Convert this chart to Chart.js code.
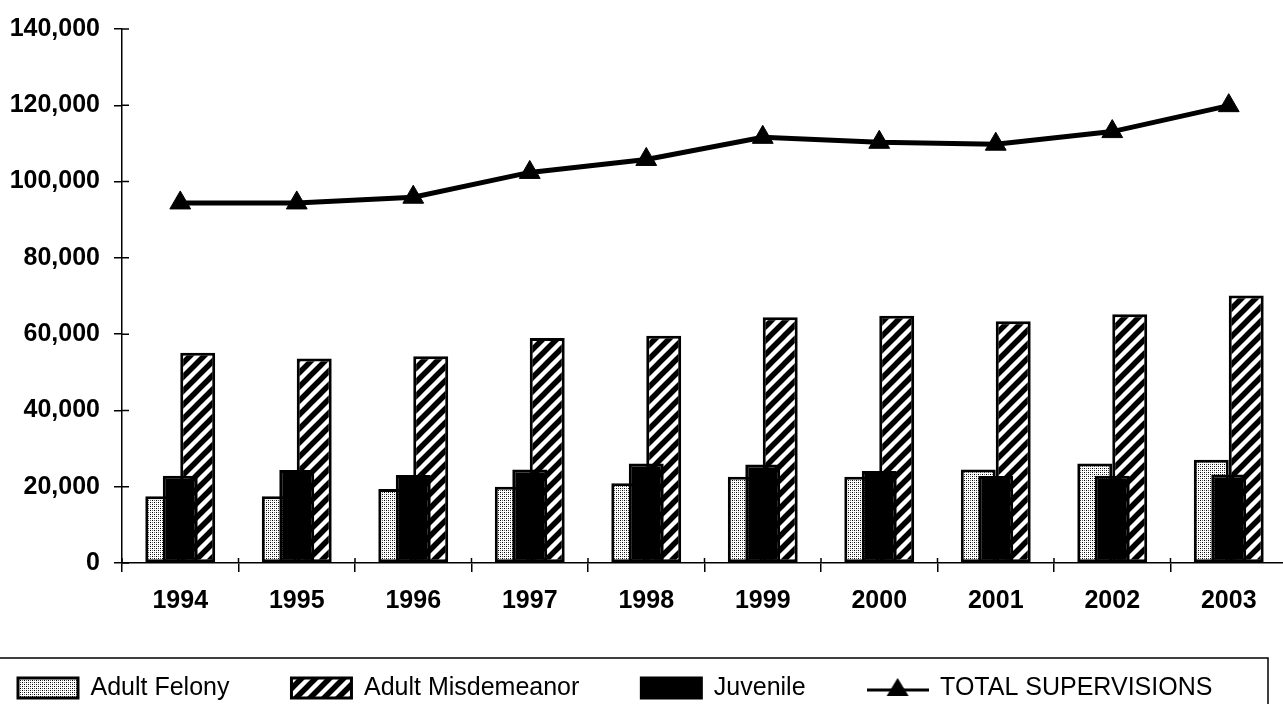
<!DOCTYPE html>
<html>
<head>
<meta charset="utf-8">
<title>Supervisions 1994-2003</title>
<script src="https://cdn.jsdelivr.net/npm/chart.js@4.4.1/dist/chart.umd.min.js"></script>
<style>
  html, body { margin: 0; padding: 0; background: #fff; overflow: hidden; }
  canvas { display: block; }
</style>
</head>
<body>
<canvas id="supervisions" width="1300" height="704"></canvas>
<script>
// values
const years = ["1994", "1995", "1996", "1997", "1998", "1999", "2000", "2001", "2002", "2003"]
const adultFelony = [17500, 17500, 19400, 20000, 20900, 22600, 22600, 24500, 26100, 27100]
const adultMisdemeanor = [55100, 53600, 54200, 59000, 59600, 64400, 64800, 63400, 65200, 70100]
const juvenile = [22900, 24400, 23100, 24500, 26100, 25800, 24100, 22800, 22900, 23200]
const totalSupervisions = [94400, 94400, 95900, 102400, 105800, 111600, 110300, 109800, 113100, 119900]
const yTicks = [0, 20000, 40000, 60000, 80000, 100000, 120000, 140000]

Chart.defaults.font.family = "'Liberation Sans', Arial, sans-serif"
Chart.defaults.color = "#000"

// fill patterns like the old b/w print
function makePattern(size, paint) {
  const c = document.createElement("canvas")
  c.width = size
  c.height = size
  const g = c.getContext("2d")
  g.fillStyle = "#fff"
  g.fillRect(0, 0, size, size)
  paint(g, size)
  return g.createPattern(c, "repeat")
}

// A. stipple for felony
const dots = makePattern(4, (g) => {
  g.fillStyle = "#000"
  g.fillRect(0, 0, 1, 1)
  g.fillRect(2, 2, 1, 1)
  g.fillStyle = "#666"
  g.fillRect(2, 0, 1, 1)
  g.fillRect(0, 2, 1, 1)
})

// B. "/" stripes for misdemeanor
const stripes = makePattern(14, (g, s) => {
  g.strokeStyle = "#000"
  g.lineWidth = 5.5
  g.beginPath()
  g.moveTo(-s / 2, s / 2); g.lineTo(s / 2, -s / 2)
  g.moveTo(0, s); g.lineTo(s, 0)
  g.moveTo(s / 2, s * 1.5); g.lineTo(s * 1.5, s / 2)
  g.stroke()
})

// C. legend symbol for the total line
const lineSymbol = document.createElement("canvas")
lineSymbol.width = 62
lineSymbol.height = 24
;(function () {
  const g = lineSymbol.getContext("2d")
  g.strokeStyle = "#000"
  g.lineWidth = 3
  g.beginPath()
  g.moveTo(0, 14); g.lineTo(62, 14)
  g.stroke()
  g.fillStyle = "#000"
  g.beginPath()
  g.moveTo(31, 2); g.lineTo(42, 20); g.lineTo(20, 20)
  g.closePath()
  g.fill()
})()
const legendStyles = ["rect", "rect", "rect", lineSymbol]

// bars overlap like in Excel: each series gets its own hidden axis, shifted a bit
// (negative shift = bar sits left of the year centre)
const barShift = 0.15
function barAxis(shift) {
  return {
    type: "linear",
    display: false,
    offset: false,
    bounds: "data",
    min: Number(years[0]) - 0.5 - shift,
    max: Number(years[years.length - 1]) + 0.5 - shift,
    afterBuildTicks: (s) => { s.ticks = [] },
  }
}

const legendFrame = {
  id: "legendFrame",
  afterDraw(chart) {
    const ctx = chart.ctx
    ctx.save()
    ctx.strokeStyle = "#000"
    ctx.lineWidth = 1.5
    ctx.strokeRect(-2, 658, 1270, 60)
    ctx.restore()
  },
}

// tick marks in the original cross the axis line, so add the inner half
const crossTicks = {
  id: "crossTicks",
  afterDraw(chart) {
    const { ctx, chartArea } = chart
    const y = chart.scales.y
    const x = chart.scales.x
    ctx.save()
    ctx.strokeStyle = "#000"
    ctx.lineWidth = 1.5
    ctx.beginPath()
    yTicks.forEach((v) => {
      const py = y.getPixelForValue(v)
      ctx.moveTo(chartArea.left, py)
      ctx.lineTo(chartArea.left + 7, py)
    })
    for (let i = 0; i <= years.length; i++) {
      const px = chartArea.left + (i * (chartArea.right - chartArea.left)) / years.length
      ctx.moveTo(px, chartArea.bottom)
      ctx.lineTo(px, chartArea.bottom - 5)
    }
    ctx.stroke()
    ctx.restore()
  },
}

// shared bar look; grouped off so each bar sits right on its own axis value
const barLook = {
  type: "bar",
  borderColor: "#000",
  borderWidth: 3,
  borderSkipped: false,
  grouped: false,
  categoryPercentage: 1,
  barPercentage: 0.3,
}

const data = {
  labels: years,
  datasets: [
    { ...barLook, label: "Adult Felony", data: adultFelony, xAxisID: "xf", backgroundColor: dots, order: 3 },
    { ...barLook, label: "Adult Misdemeanor", data: adultMisdemeanor, xAxisID: "xm", backgroundColor: stripes, order: 2 },
    { ...barLook, label: "Juvenile", data: juvenile, xAxisID: "xj", backgroundColor: "#000", order: 1 },
    {
      type: "line",
      label: "TOTAL SUPERVISIONS",
      data: totalSupervisions,
      xAxisID: "x",
      borderColor: "#000",
      backgroundColor: "#000",
      borderWidth: 5,
      tension: 0,
      pointStyle: "triangle",
      pointRadius: 12,
      pointBorderWidth: 1,
      pointBackgroundColor: "#000",
      pointBorderColor: "#000",
      order: 0,
    },
  ],
}

const config = {
  type: "bar",
  data: data,
  plugins: [legendFrame, crossTicks],
  options: {
    responsive: false,
    animation: false,
    layout: { padding: { left: -44, right: 7, top: 26, bottom: -6.5 } },
    scales: {
      x: {
        type: "category",
        position: "bottom",
        offset: true,
        grid: { offset: true, drawOnChartArea: false, color: "#000", tickLength: 9, lineWidth: 1.5 },
        border: { color: "#000", width: 1.5 },
        ticks: { font: { size: 25, weight: "bold" }, padding: 14, maxRotation: 0 },
        afterFit: (s) => { s.height = 50.5 },
      },
      xf: barAxis(-barShift),
      xj: barAxis(0),
      xm: barAxis(barShift),
      y: {
        min: yTicks[0],
        max: yTicks[yTicks.length - 1],
        afterBuildTicks: (s) => { s.ticks = yTicks.map((v) => ({ value: v })) },
        grid: { drawOnChartArea: false, color: "#000", tickLength: 8, lineWidth: 1.5 },
        border: { color: "#000", width: 1.5 },
        ticks: {
          font: { size: 25, weight: "bold" },
          padding: 14,
          callback: (v) => Number(v).toLocaleString("en-US"),
        },
        afterFit: (s) => { s.width = 166 },
      },
    },
    plugins: {
      tooltip: { enabled: false },
      legend: {
        position: "bottom",
        align: "start",
        labels: {
          usePointStyle: true,
          pointStyleWidth: 60,
          boxHeight: 20,
          padding: 62,
          font: { size: 25 },
          sort: (a, b) => a.datasetIndex - b.datasetIndex,
          generateLabels(chart) {
            const items = Chart.defaults.plugins.legend.labels.generateLabels(chart)
            items.forEach((it) => { it.pointStyle = legendStyles[it.datasetIndex] })
            return items
          },
        },
      },
    },
  },
}

const myChart = new Chart(document.getElementById("supervisions"), config)
</script>
</body>
</html>
